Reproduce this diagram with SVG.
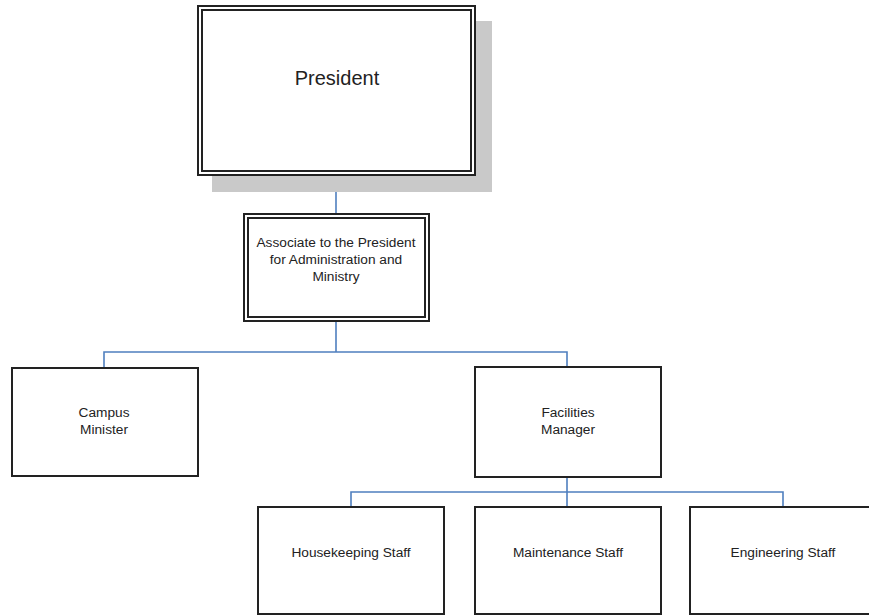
<svg xmlns="http://www.w3.org/2000/svg" width="869" height="616" viewBox="0 0 869 616">
  <style>
    .box { fill: #ffffff; stroke: #222222; stroke-width: 2; }
    .inner { fill: none; stroke: #222222; stroke-width: 2; }
    .shadow { fill: #c9c9c9; }
    .link { fill: none; stroke: #4f7fbf; stroke-width: 1.6; }
    .lbl { font-family: "Liberation Sans", Arial, sans-serif; font-size: 13.7px; fill: #222222; text-anchor: middle; }
    .big { font-size: 20px; }
  </style>
  <rect width="869" height="616" fill="#ffffff"/>

  <!-- connectors -->
  <g id="connectors">
    <path class="link" d="M336,176 V214"/>
    <path class="link" d="M336,322 V352 M104,368 V352 H567 V368"/>
    <path class="link" d="M567,477 V492 M351,507 V492 H783 V507 M567,492 V507"/>
  </g>

  <!-- president -->
  <g id="president">
    <rect class="shadow" x="212" y="21" width="280" height="171"/>
    <rect class="box" x="198" y="6" width="277" height="169" stroke-width="2.5"/>
    <rect class="inner" x="202" y="10" width="269" height="161"/>
    <text class="lbl big" x="337" y="85">President</text>
  </g>

  <!-- associate -->
  <g id="associate">
    <rect class="box" x="244" y="214" width="185" height="107" stroke-width="2.5"/>
    <rect class="inner" x="248" y="218" width="177" height="99"/>
    <text class="lbl" x="336" y="247">Associate to the President</text>
    <text class="lbl" x="336" y="264">for Administration and</text>
    <text class="lbl" x="336" y="281">Ministry</text>
  </g>

  <!-- campus minister -->
  <g id="campus-minister">
    <rect class="box" x="12" y="368" width="186" height="108"/>
    <text class="lbl" x="104" y="417">Campus</text>
    <text class="lbl" x="104" y="434">Minister</text>
  </g>

  <!-- facilities manager -->
  <g id="facilities-manager">
    <rect class="box" x="475" y="367" width="186" height="110"/>
    <text class="lbl" x="568" y="417">Facilities</text>
    <text class="lbl" x="568" y="434">Manager</text>
  </g>

  <!-- staff -->
  <g id="housekeeping">
    <rect class="box" x="258" y="507" width="186" height="107"/>
    <text class="lbl" x="351" y="557">Housekeeping Staff</text>
  </g>
  <g id="maintenance">
    <rect class="box" x="475" y="507" width="186" height="107"/>
    <text class="lbl" x="568" y="557">Maintenance Staff</text>
  </g>
  <g id="engineering">
    <rect class="box" x="690" y="507" width="186" height="107"/>
    <text class="lbl" x="783" y="557">Engineering Staff</text>
  </g>
</svg>
